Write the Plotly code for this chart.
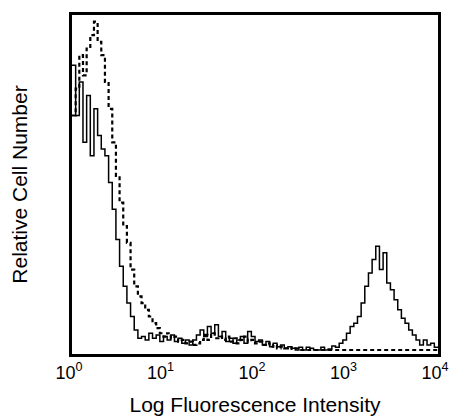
import numpy as np
import plotly.graph_objects as go

# Histogram channels: 100 bins of 0.04 decade across 10^0 .. 10^4
decade_edges = np.arange(101) * 0.04
tick_vals = [1, 10, 100, 1000, 10000]
tick_text = ["10<sup>0</sup>", "10<sup>1</sup>", "10<sup>2</sup>", "10<sup>3</sup>", "10<sup>4</sup>"]

# Stained sample (solid line), relative counts per bin
stained = [
    85, 70, 80, 62, 76, 58, 72, 64, 60, 58,
    50, 42, 33, 25, 19, 14, 10, 6, 3.5, 4,
    3, 5, 3.5, 4.5, 2.5, 4, 3, 4.5, 2.5, 3.5,
    2, 3, 1.5, 3, 4.5, 6, 4, 7, 5, 7.5,
    4, 5.5, 2.5, 3.5, 2, 3, 4, 2, 5.5, 4,
    2.5, 3, 1.5, 2.5, 1, 2, 1, 1.5, 0.5, 1,
    0.5, 0, 0.8, 0, 0.8, 0.5, 0, 0, 0.8, 0,
    0.3, 1.2, 0.8, 2, 3, 5, 7, 8, 10, 14,
    19, 23, 27, 31, 24, 29, 20, 18, 15, 12,
    9.5, 8, 6, 4.5, 3, 1.5, 3, 1.5, 2, 0.8,
]

# Isotype control (dashed line), relative counts per bin
control = [
    70, 78, 88, 82, 90, 94, 98, 92, 88, 80,
    72, 62, 52, 44, 37, 32, 24, 19, 16, 14,
    12, 10, 8, 6.5, 5, 4, 5, 3.5, 4, 2.5,
    3, 2, 2.5, 1.5, 2, 3, 4.5, 3, 5, 3.5,
    4, 3, 4, 2.5, 3.5, 2, 3, 4, 2.5, 3,
    2, 2.5, 1.5, 2, 1, 1.5, 0.5, 1, 0.5, 0.8,
    0.3, 0.5, 0, 0, 0, 0, 0, 0, 0, 0,
    0, 0, 0, 0, 0, 0, 0, 0, 0, 0,
    0, 0, 0, 0, 0, 0, 0, 0, 0, 0,
    0, 0, 0, 0, 0, 0, 0, 0, 0, 0,
]

x_edges = 10 ** decade_edges

fig = go.Figure()
fig.add_trace(go.Scatter(
    x=x_edges, y=control + [control[-1]], mode="lines", line_shape="hv",
    line=dict(color="black", width=2.2, dash="4px,3px"), showlegend=False,
))
fig.add_trace(go.Scatter(
    x=x_edges, y=stained + [stained[-1]], mode="lines", line_shape="hv",
    line=dict(color="black", width=1.5), showlegend=False,
))

# the page body adds an 8px margin, so the figure is sized to fit the window
fig.update_layout(
    width=449, height=409,
    margin=dict(l=64, r=19, t=4, b=63),
    paper_bgcolor="white", plot_bgcolor="white",
    font=dict(family="Liberation Sans, Arial, sans-serif", color="black", size=19),
    xaxis=dict(
        type="log", range=[0, 4], tickvals=tick_vals, ticktext=tick_text,
        showline=True, mirror=True, linewidth=3, linecolor="black",
        showgrid=False, zeroline=False, ticks="",
        tickfont=dict(size=18), ticklabelshift=-3,
        title=dict(text="Log Fluorescence Intensity", font=dict(size=21), standoff=16),
    ),
    yaxis=dict(
        range=[-1.2, 100], showticklabels=False, ticks="",
        showline=True, mirror=True, linewidth=3, linecolor="black",
        showgrid=False, zeroline=False,
        title=dict(text="Relative Cell Number", font=dict(size=21), standoff=38),
    ),
)

fig.write_html("out.html")
